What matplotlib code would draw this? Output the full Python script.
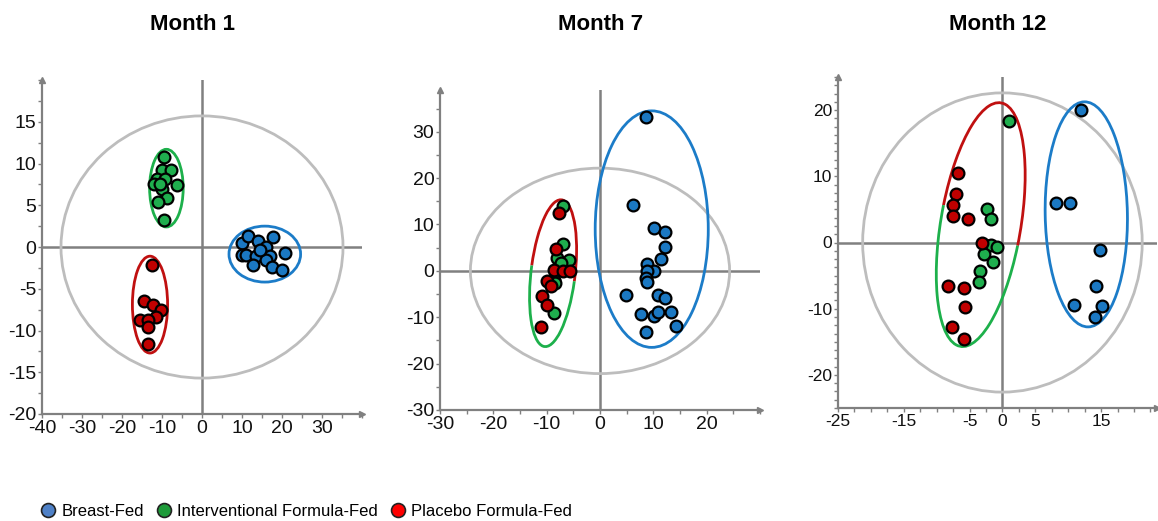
import matplotlib
matplotlib.use("Agg")
import matplotlib.pyplot as plt
from matplotlib.patches import Ellipse, Arc
from matplotlib.lines import Line2D
from matplotlib.ticker import MultipleLocator

plt.rcParams['font.family'] = ['Liberation Sans', 'DejaVu Sans']
plt.rcParams['axes.unicode_minus'] = False

titles = ["Month 1", "Month 7", "Month 12"]
groups = ["Breast-Fed", "Interventional Formula-Fed", "Placebo Formula-Fed"]

# Month 1 scores
m1_breast_x = [10.1, 11.6, 14.0, 17.7, 16.0, 10.1, 11.1, 13.4, 17.0, 20.8, 12.7, 16.0, 17.4, 20.1, 14.5]
m1_breast_y = [0.5, 1.3, 0.7, 1.2, 0.0, -1.0, -0.9, -1.1, -1.1, -0.7, -2.1, -1.6, -2.4, -2.8, -0.3]
m1_interv_x = [-9.6, -10.1, -7.8, -11.3, -9.2, -12.1, -6.2, -9.9, -8.8, -10.9, -9.4, -10.4]
m1_interv_y = [10.8, 9.2, 9.2, 8.2, 8.2, 7.5, 7.4, 6.9, 5.9, 5.4, 3.2, 7.6]
m1_placebo_x = [-12.5, -14.5, -12.3, -10.3, -11.5, -15.6, -13.6, -13.6, -13.6]
m1_placebo_y = [-2.1, -6.5, -6.9, -7.6, -8.4, -8.8, -8.8, -9.6, -11.6]

# Month 7 scores
m7_breast_x = [8.6, 6.1, 10.1, 12.2, 12.2, 11.4, 8.75, 10.1, 8.9, 8.6, 8.9, 4.8, 10.9, 12.2, 7.6, 10.1, 10.8, 13.3, 14.25, 8.6]
m7_breast_y = [33.2, 14.1, 9.3, 8.3, 5.2, 2.5, 1.4, 0.0, -0.1, -1.6, -2.3, -5.3, -5.3, -5.9, -9.3, -9.7, -8.8, -8.9, -11.8, -13.1]
m7_interv_x = [-6.9, -6.9, -8.0, -5.9, -7.3, -8.6, -8.4, -8.6]
m7_interv_y = [13.9, 5.7, 2.7, 2.4, 1.7, -1.9, -2.7, -9.1]
m7_placebo_x = [-7.6, -8.25, -8.6, -6.9, -5.6, -10.0, -9.25, -10.9, -10.0, -11.1]
m7_placebo_y = [12.4, 4.7, 0.2, -0.1, -0.1, -2.2, -3.2, -5.4, -7.3, -12.1]

# Month 12 scores
m12_breast_x = [12.0, 8.1, 10.2, 14.9, 14.3, 10.9, 15.1, 14.0]
m12_breast_y = [20.0, 6.0, 6.0, -1.1, -6.6, -9.4, -9.6, -11.2]
m12_interv_x = [1.0, -2.3, -1.7, -2.6, -1.7, -0.9, -2.8, -1.4, -3.4, -3.55]
m12_interv_y = [18.4, 5.1, 3.5, -0.45, -0.45, -0.75, -1.8, -2.9, -4.3, -5.9]
m12_placebo_x = [-6.8, -7.1, -7.5, -7.5, -5.3, -3.1, -8.2, -5.8, -5.7, -7.6, -5.9]
m12_placebo_y = [10.55, 7.3, 5.6, 4.0, 3.6, 0.0, -6.5, -6.8, -9.75, -12.8, -14.6]

# confidence ellipses: (cx, cy, width, height, angle)
m1_ellipses = {"all": (0, 0, 70.5, 31.4, 0), "breast": (15.7, -0.85, 17.9, 6.7, 0),
               "interv": (-8.9, 7.05, 8.4, 9.3, 0), "placebo": (-13.0, -6.9, 8.8, 11.6, 0)}
m7_ellipses = {"all": (0, 0, 48.6, 44.3, 0), "breast": (9.7, 9.0, 21.2, 51.0, 0),
               "formula": (-8.8, -0.5, 8.3, 31.8, -5.6)}
m12_ellipses = {"all": (0, 0, 42.5, 45.2, 0), "breast": (12.75, 4.25, 12.5, 34.0, 1.0),
                "formula": (-3.3, 2.7, 12.2, 37.3, -9.5)}

pt_colors = {"breast": "#1B78C2", "interv": "#1FAE4E", "placebo": "#C00000"}
ring_colors = {"breast": "#1C7CC8", "interv": "#1DB04B", "placebo": "#C01010", "all": "#BDBDBD"}
axis_grey = "#808080"


def setup_axes(ax, xlim, ylim, xticks, yticks, xminor, yminor, fs):
    ax.set_xlim(*xlim)
    ax.set_ylim(*ylim)
    ax.set_xticks(xticks)
    ax.set_yticks(yticks)
    ax.xaxis.set_minor_locator(MultipleLocator(xminor))
    ax.yaxis.set_minor_locator(MultipleLocator(yminor))
    for s in ["top", "right"]:
        ax.spines[s].set_visible(False)
    for s in ["left", "bottom"]:
        ax.spines[s].set_color(axis_grey)
        ax.spines[s].set_linewidth(1.6)
    ax.tick_params(which="both", direction="out", length=3, width=1, color=axis_grey,
                   labelsize=fs, pad=1, labelcolor="#111111")
    ax.axhline(0, color=axis_grey, lw=1.8, zorder=1)
    ax.axvline(0, color=axis_grey, lw=1.8, zorder=1)
    ax.plot(0, 1, "^", color=axis_grey, ms=5, transform=ax.transAxes, clip_on=False)
    ax.plot(1, 0, ">", color=axis_grey, ms=5, transform=ax.transAxes, clip_on=False)
    ax.set_facecolor("none")


def ring(ax, e, color):
    cx, cy, w, h, a = e
    ax.add_patch(Ellipse((cx, cy), w, h, angle=a, fill=False, edgecolor=color, lw=2, zorder=2))


def split_ring(ax, e, t1, t2):
    cx, cy, w, h, a = e
    ax.add_patch(Arc((cx, cy), w, h, angle=a, theta1=t1, theta2=t2,
                     edgecolor=ring_colors["placebo"], lw=2, zorder=2))
    ax.add_patch(Arc((cx, cy), w, h, angle=a, theta1=t2, theta2=t1 + 360,
                     edgecolor=ring_colors["interv"], lw=2, zorder=2))


def dots(ax, x, y, key):
    ax.scatter(x, y, s=72, c=pt_colors[key], edgecolors="black", linewidths=1.6, zorder=3)


fig = plt.figure(figsize=(11.58, 5.21), dpi=100)

ax1 = fig.add_axes([42 / 1158, 107 / 521, 320 / 1158, 334 / 521])
setup_axes(ax1, (-40, 40), (-20, 20), range(-40, 31, 10), range(-20, 16, 5), 5, 2.5, 14)
ring(ax1, m1_ellipses["all"], ring_colors["all"])
ring(ax1, m1_ellipses["breast"], ring_colors["breast"])
ring(ax1, m1_ellipses["interv"], ring_colors["interv"])
ring(ax1, m1_ellipses["placebo"], ring_colors["placebo"])
dots(ax1, m1_breast_x, m1_breast_y, "breast")
dots(ax1, m1_interv_x, m1_interv_y, "interv")
dots(ax1, m1_placebo_x, m1_placebo_y, "placebo")

ax2 = fig.add_axes([440 / 1158, 111 / 521, 320 / 1158, 320 / 521])
setup_axes(ax2, (-30, 30), (-30, 39), range(-30, 21, 10), range(-30, 31, 10), 5, 5, 14)
ring(ax2, m7_ellipses["all"], ring_colors["all"])
ring(ax2, m7_ellipses["breast"], ring_colors["breast"])
split_ring(ax2, m7_ellipses["formula"], -18, 163)
dots(ax2, m7_breast_x, m7_breast_y, "breast")
dots(ax2, m7_interv_x, m7_interv_y, "interv")
dots(ax2, m7_placebo_x, m7_placebo_y, "placebo")

ax3 = fig.add_axes([838 / 1158, 113 / 521, 319 / 1158, 331 / 521])
setup_axes(ax3, (-25, 23.5), (-25, 25), [-25, -15, -5, 0, 5, 15], range(-20, 21, 10), 2.5, 1.25, 12.5)
ring(ax3, m12_ellipses["all"], ring_colors["all"])
ring(ax3, m12_ellipses["breast"], ring_colors["breast"])
split_ring(ax3, m12_ellipses["formula"], -20, 162)
dots(ax3, m12_breast_x, m12_breast_y, "breast")
dots(ax3, m12_interv_x, m12_interv_y, "interv")
dots(ax3, m12_placebo_x, m12_placebo_y, "placebo")

for t, xc in zip(titles, [193, 601, 998]):
    fig.text(xc / 1158, 1 - 25 / 521, t, ha="center", va="center", fontsize=16, fontweight="bold")

legend_colors = ["#4F81C7", "#1E9B3A", "#FF0000"]
handles = [Line2D([], [], ls="", marker="o", ms=10, markerfacecolor=c, markeredgecolor="#222222",
                  markeredgewidth=1.2) for c in legend_colors]
fig.legend(handles, groups, loc="center left", bbox_to_anchor=(38 / 1158, 10 / 521), ncol=3,
           frameon=False, fontsize=12, handletextpad=0.2, columnspacing=0.6, handlelength=1.2,
           borderpad=0, borderaxespad=0)

fig.savefig("out.png", dpi=100)
